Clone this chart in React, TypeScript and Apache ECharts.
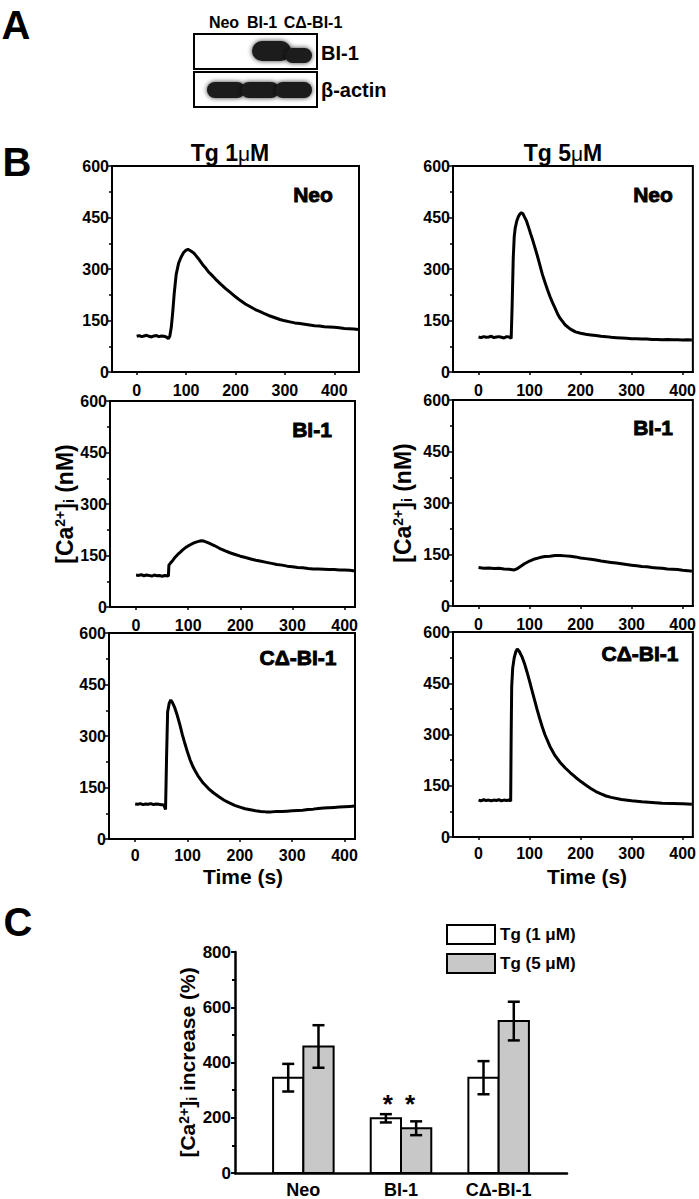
import React, { useEffect, useRef } from "react";
import * as echarts from "echarts";

const FONT = '"Liberation Sans", Arial, Helvetica, sans-serif';
const NARROW = '"Liberation Sans Narrow", "Liberation Sans", Arial, sans-serif';

// ---------- Panel B : [Ca2+]i (nM) traces versus time (s) ----------
const neo1Time = [0,5,10,15,20,25,30,35,40,45,50,55,60,64,67,70,73,76,80,85,90,95,100,104,108,112,116,120,125,130,135,140,145,150,160,170,180,190,200,210,220,230,240,250,260,270,280,290,300,310,320,330,340,350,360,370,380,390,400,410,420,430,440,448];
const neo1Ca = [104,106,103,105,107,104,102,105,106,103,105,104,102,97,104,130,175,230,285,318,335,348,355,357,354,350,346,339,330,320,310,302,292,285,270,256,243,231,219,208,198,190,182,176,169,163,158,153,149,146,143,141,139,137,135,134,132,131,130,129,127,126,125,124];

const neo5Time = [0,5,10,15,20,25,30,35,40,45,50,55,60,64,66,68,70,72,75,78,81,84,87,90,94,98,102,106,110,115,120,125,130,135,140,145,150,155,160,170,180,190,200,210,220,230,240,250,260,270,280,290,300,310,320,330,340,350,360,370,380,390,400,410,418];
const neo5Ca = [102,100,103,101,102,104,100,102,103,101,99,103,102,98,200,330,395,420,440,452,460,464,461,452,440,422,403,385,365,340,313,285,262,240,220,202,186,169,156,137,125,117,113,110,108,106,104,103,101,100,99,98,97,97,96,96,95,95,94,95,94,94,93,94,93];

const bi1Time = [0,5,10,15,20,25,30,35,40,45,50,55,60,62,63,66,70,75,80,85,90,95,100,105,110,115,120,125,130,135,140,150,160,170,180,190,200,210,220,230,240,250,260,270,280,290,300,310,320,330,340,350,360,370,380,390,400,410,420];
const bi1Ca = [93,92,94,91,93,92,90,93,91,92,89,92,91,90,122,128,135,145,153,160,167,173,178,182,186,189,191,193,192,189,186,179,171,164,158,153,148,144,140,136,133,130,127,124,122,119,117,115,114,112,111,111,110,109,109,108,108,107,105];

const bi5Time = [0,10,20,30,40,50,60,70,75,80,90,100,110,120,130,140,150,160,170,180,190,200,210,220,230,240,250,260,270,280,290,300,310,320,330,340,350,360,370,380,390,400,410,418];
const bi5Ca = [112,110,111,109,110,108,107,105,108,113,123,131,137,141,144,145,147,147,146,145,143,140,138,136,134,131,129,127,125,123,121,119,117,115,114,112,111,110,108,107,106,104,103,101];

const cd1Time = [0,5,10,15,20,25,30,35,40,45,50,55,58,59,60,62,65,68,71,75,80,85,90,95,100,105,110,115,120,130,140,150,160,170,180,190,200,210,220,230,240,250,260,270,280,290,300,310,320,330,340,350,360,370,380,390,400,410,420];
const cd1Ca = [102,101,103,100,102,101,103,100,102,101,100,99,86,160,240,370,395,405,398,385,362,335,305,278,253,230,212,197,184,163,147,134,123,113,105,98,93,88,85,82,80,79,79,80,80,81,82,83,84,86,87,89,90,91,92,93,94,95,96];

const cd5Time = [0,5,10,15,20,25,30,35,40,45,50,55,60,63,64,65,67,70,73,76,80,85,90,95,100,105,110,115,120,125,130,140,150,160,170,180,190,200,210,220,230,240,250,260,280,300,320,340,360,380,400,418];
const cd5Ca = [108,106,109,107,108,106,108,107,109,106,108,107,108,105,300,440,495,525,542,550,543,528,508,483,456,428,400,372,346,322,300,265,238,218,202,188,175,163,152,142,133,126,120,116,110,106,103,101,99,98,97,96];

const timeTicks = [0, 100, 200, 300, 400];
const cellLines = ["Neo", "BI-1", "CΔ-BI-1"];

// ---------- Panel C : [Ca2+]i increase (%) ----------
const groupPos = [1, 2, 3];
const tg1Mean = [345, 198, 345];
const tg1Err = [50, 15, 60];
const tg5Mean = [458, 162, 550];
const tg5Err = [77, 25, 70];
const significant = [false, true, false];

// ---------- layout (pixel boxes, kept apart from data) ----------
const traceGrids = [
  { left: 112, top: 166, width: 247, height: 206, xMax: 450 },
  { left: 453, top: 166, width: 244, height: 206, xMax: 420 },
  { left: 110, top: 401, width: 245, height: 206, xMax: 420 },
  { left: 453, top: 400, width: 244, height: 206, xMax: 420 },
  { left: 109, top: 633, width: 246, height: 206, xMax: 420 },
  { left: 453, top: 632, width: 244, height: 205, xMax: 420 },
];
const traces = [
  { t: neo1Time, v: neo1Ca },
  { t: neo5Time, v: neo5Ca },
  { t: bi1Time, v: bi1Ca },
  { t: bi5Time, v: bi5Ca },
  { t: cd1Time, v: cd1Ca },
  { t: cd5Time, v: cd5Ca },
];

const richCa = {
  sup: { fontSize: 14, fontWeight: "bold", fontFamily: FONT, color: "#000", verticalAlign: "top" },
  sub: { fontSize: 14, fontWeight: "bold", fontFamily: FONT, color: "#000", verticalAlign: "bottom", padding: [8, 0, 0, 0] },
};

function buildOption() {
  const grid: any[] = [];
  const xAxis: any[] = [];
  const yAxis: any[] = [];
  const series: any[] = [];

  traceGrids.forEach((g, i) => {
    grid.push({ left: g.left, top: g.top, width: g.width, height: g.height, show: true, borderColor: "#000", borderWidth: 2, backgroundColor: "transparent" });
    xAxis.push({
      type: "value", gridIndex: i, min: -50, max: g.xMax,
      axisLine: { show: true, onZero: false, lineStyle: { color: "#000", width: 2 } },
      axisTick: { show: true, customValues: timeTicks, length: 3, lineStyle: { color: "#000", width: 1.5 } },
      axisLabel: { customValues: timeTicks, color: "#000", fontFamily: FONT, fontWeight: "bold", fontSize: 16, margin: i >= 4 ? 8 : 10 },
      splitLine: { show: false },
    });
    const isMid = i === 2 || i === 3;
    yAxis.push({
      type: "value", gridIndex: i, min: 0, max: 600, interval: 150,
      axisLine: { show: true, onZero: false, lineStyle: { color: "#000", width: 2 } },
      axisTick: { show: true, length: 4, lineStyle: { color: "#000", width: 1.5 } },
      minorTick: { show: true, splitNumber: 2, length: 3, lineStyle: { color: "#000", width: 1.5 } },
      splitLine: { show: false },
      axisLabel: { color: "#000", fontFamily: FONT, fontWeight: "bold", fontSize: 16, margin: 3 },
      name: isMid ? "[Ca{sup|2+}]{sub|i} (nM)" : "",
      nameLocation: "middle",
      nameRotate: 90,
      nameGap: i === 2 ? 32 : 39,
      nameTextStyle: { color: "#000", fontFamily: FONT, fontWeight: "bold", fontSize: 23, rich: richCa },
    });
    series.push({
      type: "line", xAxisIndex: i, yAxisIndex: i, showSymbol: false, silent: true,
      lineStyle: { color: "#000", width: 3 },
      data: traces[i].t.map((t, k) => [t, traces[i].v[k]]),
    });
  });

  // Panel C grid
  grid.push({ left: 235, top: 952, width: 332, height: 223, show: false });
  xAxis.push({
    type: "value", gridIndex: 6, min: 0.3, max: 3.7,
    axisLine: { show: true, onZero: false, lineStyle: { color: "#000", width: 2.5 } },
    axisTick: { show: false },
    axisLabel: {
      customValues: groupPos, color: "#000", fontFamily: FONT, fontWeight: "bold", fontSize: 18, margin: 8,
      formatter: (v: number) => cellLines[groupPos.indexOf(Math.round(v))] ?? "",
    },
    splitLine: { show: false },
  });
  yAxis.push({
    type: "value", gridIndex: 6, min: 0, max: 800, interval: 200,
    axisLine: { show: true, onZero: false, lineStyle: { color: "#000", width: 2.5 } },
    axisTick: { show: true, length: 4, lineStyle: { color: "#000", width: 2 } },
    minorTick: { show: true, splitNumber: 2, length: 3, lineStyle: { color: "#000", width: 2 } },
    splitLine: { show: false },
    axisLabel: { color: "#000", fontFamily: FONT, fontWeight: "bold", fontSize: 17, margin: 4 },
    name: "[Ca{sup|2+}]{sub|i} increase (%)",
    nameLocation: "middle", nameRotate: 90, nameGap: 31,
    nameTextStyle: { color: "#000", fontFamily: FONT, fontWeight: "bold", fontSize: 21, rich: richCa },
  });

  const makeBars = (side: number, fill: string) => (params: any, api: any) => {
    const x = api.value(0);
    const m = api.value(1);
    const e = api.value(2);
    const sig = api.value(3);
    const starLevel = api.value(4);
    const w = api.size([0.31, 0])[0];
    const top = api.coord([x, m]);
    const base = api.coord([x, 0]);
    const hi = api.coord([x, m + e]);
    const lo = api.coord([x, m - e]);
    const x0 = side < 0 ? top[0] - w : top[0];
    const cx = x0 + w / 2;
    const cap = 6;
    const children: any[] = [
      { type: "rect", shape: { x: x0, y: top[1], width: w, height: base[1] - top[1] }, style: { fill, stroke: "#000", lineWidth: 2 } },
      { type: "line", shape: { x1: cx, y1: hi[1], x2: cx, y2: lo[1] }, style: { stroke: "#000", lineWidth: 2.5 } },
      { type: "line", shape: { x1: cx - cap, y1: hi[1], x2: cx + cap, y2: hi[1] }, style: { stroke: "#000", lineWidth: 2.5 } },
      { type: "line", shape: { x1: cx - cap, y1: lo[1], x2: cx + cap, y2: lo[1] }, style: { stroke: "#000", lineWidth: 2.5 } },
    ];
    if (sig) {
      const sy = api.coord([x, starLevel])[1];
      children.push({
        type: "text",
        style: { text: "*", x: cx + (side < 0 ? 2 : -6), y: sy - 10, textAlign: "center", textVerticalAlign: "middle", fontSize: 26, fontWeight: "bold", fontFamily: FONT, fill: "#000" },
      });
    }
    return { type: "group", children };
  };

  const starLevels = groupPos.map((_, i) => Math.max(tg1Mean[i] + tg1Err[i], tg5Mean[i] + tg5Err[i]));
  series.push({
    type: "custom", name: "Tg (1 μM)", xAxisIndex: 6, yAxisIndex: 6, silent: true,
    itemStyle: { color: "#ffffff", borderColor: "#000" },
    encode: { x: 0, y: 1 },
    data: groupPos.map((p, i) => [p, tg1Mean[i], tg1Err[i], significant[i] ? 1 : 0, starLevels[i]]),
    renderItem: makeBars(-1, "#ffffff"),
  });
  series.push({
    type: "custom", name: "Tg (5 μM)", xAxisIndex: 6, yAxisIndex: 6, silent: true,
    itemStyle: { color: "#c8c8c8", borderColor: "#000" },
    encode: { x: 0, y: 1 },
    data: groupPos.map((p, i) => [p, tg5Mean[i], tg5Err[i], significant[i] ? 1 : 0, starLevels[i]]),
    renderItem: makeBars(1, "#c8c8c8"),
  });

  const txt = (text: string, x: number, y: number, size: number, extra: any = {}) => ({
    type: "text", x, y, silent: true,
    style: { text, fill: "#000", fontFamily: FONT, fontWeight: "bold", fontSize: size, textAlign: "center", textVerticalAlign: "middle", ...extra },
  });
  const heavy = { stroke: "#000", lineWidth: 0.9 };
  const muRich = { mu: { fontFamily: FONT, fontWeight: "normal", fontSize: 21, fill: "#000", color: "#000" } };
  const band = (x: number, y: number, w: number, h: number) => ({
    type: "rect", silent: true, shape: { x, y, width: w, height: h, r: h / 2 },
    style: { fill: "#1a1a1a", shadowBlur: 5, shadowColor: "rgba(0,0,0,0.8)" },
  });

  const graphic: any[] = [
    // panel letters
    txt("A", 16, 25, 40),
    txt("B", 17, 162, 40),
    txt("C", 18, 922, 40),
    // western blot (panel A)
    txt("Neo", 224, 22, 16, { fontFamily: NARROW }),
    txt("BI-1", 262, 22, 16, { fontFamily: NARROW }),
    txt("CΔ-BI-1", 313, 22, 16, { fontFamily: NARROW }),
    { type: "rect", silent: true, shape: { x: 194, y: 34, width: 123, height: 35 }, style: { fill: "#fff", stroke: "#000", lineWidth: 2 } },
    { type: "rect", silent: true, shape: { x: 194, y: 72, width: 123, height: 35 }, style: { fill: "#fff", stroke: "#000", lineWidth: 2 } },
    band(252, 41, 39, 20),
    band(285, 48, 27, 15),
    band(207, 82, 38, 16),
    band(241, 82, 38, 16),
    band(275, 82, 37, 16),
    txt("BI-1", 321, 53, 20, { fontFamily: NARROW, textAlign: "left" }),
    txt("β-actin", 321, 90, 20, { fontFamily: NARROW, textAlign: "left" }),
    // panel B titles and labels
    txt("Tg 1{mu|μ}M", 230, 153, 23, { rich: muRich }),
    txt("Tg 5{mu|μ}M", 563, 153, 23, { rich: muRich }),
    txt("Neo", 313, 194, 21, heavy),
    txt("Neo", 653, 194, 21, heavy),
    txt("BI-1", 312, 429, 21, heavy),
    txt("BI-1", 653, 427, 21, heavy),
    txt("CΔ-BI-1", 298, 657, 21, heavy),
    txt("CΔ-BI-1", 640, 653, 21, heavy),
    txt("Time (s)", 243, 876, 21),
    txt("Time (s)", 587, 876, 21),
  ];

  return {
    animation: false,
    backgroundColor: "#ffffff",
    textStyle: { fontFamily: FONT },
    grid, xAxis, yAxis, series, graphic,
    legend: {
      orient: "vertical", left: 441, top: 919, itemWidth: 48, itemHeight: 19, itemGap: 8, selectedMode: false,
      data: [
        { name: "Tg (1 μM)", icon: "rect", itemStyle: { color: "#ffffff", borderColor: "#000", borderWidth: 2 } },
        { name: "Tg (5 μM)", icon: "rect", itemStyle: { color: "#c8c8c8", borderColor: "#000", borderWidth: 2 } },
      ],
      textStyle: { color: "#000", fontFamily: FONT, fontWeight: "bold", fontSize: 17 },
    },
  };
}

export default function App() {
  const ref = useRef<HTMLDivElement>(null);
  useEffect(() => {
    if (!ref.current) return;
    const chart = echarts.init(ref.current, undefined, { renderer: "svg" });
    chart.setOption(buildOption() as any);
    return () => chart.dispose();
  }, []);
  return <div ref={ref} style={{ position: "absolute", left: 0, top: 0, width: 699, height: 1199, background: "#fff" }} />;
}
